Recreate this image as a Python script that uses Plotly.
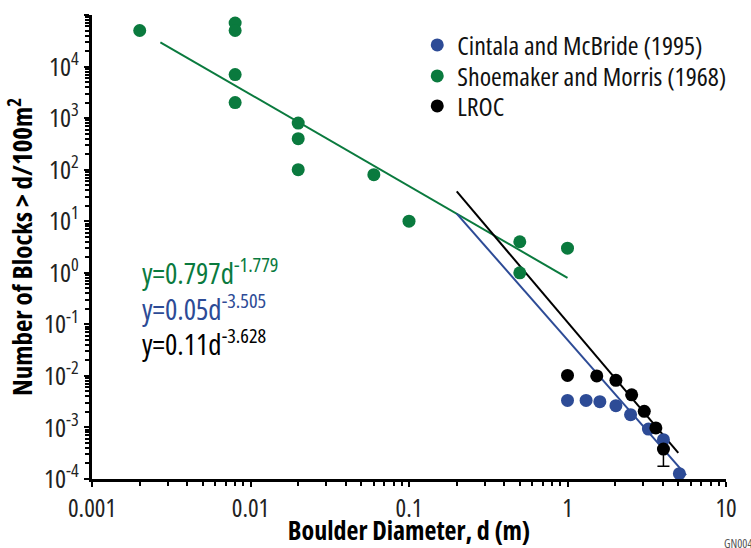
import numpy as np
import plotly.graph_objects as go

# Shoemaker and Morris (1968)
sm_d = [0.002, 0.008, 0.008, 0.008, 0.008, 0.02, 0.02, 0.02, 0.06, 0.1, 0.5, 0.5, 1.0]
sm_n = [5e4, 7e4, 5e4, 7e3, 2e3, 800, 400, 100, 80, 10, 4, 1, 3]

# Cintala and McBride (1995)
cm_d = [1.0, 1.31, 1.6, 2.02, 2.5, 3.24, 4.03, 5.08]
cm_n = [0.00335, 0.00335, 0.00316, 0.00264, 0.00177, 0.00093, 0.00058, 0.000127]

# LROC
lr_d = [1.0, 1.53, 2.02, 2.54, 3.05, 3.61, 4.03]
lr_n = [0.0102, 0.0100, 0.0082, 0.0043, 0.00205, 0.00098, 0.00038]
lr_err_minus = [0, 0, 0, 0, 0, 0, 0.000204]

# power-law fits: y = a * d^b, drawn over a d-range
fit_green = dict(a=0.797, b=-1.779, d=[0.0027, 1.0])
fit_blue = dict(a=0.05, b=-3.505, d=[0.2, 5.6])
fit_black = dict(a=0.11, b=-3.628, d=[0.2, 5.0])

x_major = [0.001, 0.01, 0.1, 1, 10]
x_labels = ["0.001", "0.01", "0.1", "1", "10"]
y_exponents = list(range(-4, 6))

GREEN = "#0a7a3e"
BLUE = "#2d4b96"
BLACK = "#000000"
FONT = "Open Sans"


def c(t):
    return "<span style='font-stretch:condensed'>%s</span>" % t


fig = go.Figure()


def fit_line(f, color):
    d = np.array(f["d"])
    fig.add_trace(go.Scatter(x=d, y=f["a"] * d ** f["b"], mode="lines",
                             line=dict(color=color, width=2), showlegend=False,
                             hoverinfo="skip"))


fit_line(fit_green, GREEN)
fit_line(fit_blue, BLUE)
fit_line(fit_black, BLACK)

fig.add_trace(go.Scatter(x=cm_d, y=cm_n, mode="markers", name=c("Cintala and McBride (1995)"),
                         marker=dict(color=BLUE, size=13), legend="legend"))
fig.add_trace(go.Scatter(x=sm_d, y=sm_n, mode="markers", name=c("Shoemaker and Morris (1968)"),
                         marker=dict(color=GREEN, size=13), legend="legend2"))
fig.add_trace(go.Scatter(x=lr_d, y=lr_n, mode="markers", name=c("LROC"),
                         marker=dict(color=BLACK, size=13), legend="legend3",
                         error_y=dict(type="data", symmetric=False,
                                      array=[0] * len(lr_d), arrayminus=lr_err_minus,
                                      color=BLACK, thickness=1.5, width=6)))


def decades(lo, hi):
    vals = []
    for e in range(lo, hi):
        for m in range(2, 10):
            vals.append(m * 10.0 ** e)
    return vals


y_major = [10.0 ** e for e in y_exponents]
y_labels = [c("10<sup>%d</sup>" % e) for e in y_exponents]

axis_common = dict(type="log", showgrid=False, zeroline=False, showline=True,
                   linecolor="black", linewidth=3, ticks="outside", ticklen=5,
                   tickwidth=2, tickcolor="black", tickmode="array", automargin=False)

fig.update_xaxes(**axis_common, range=[-3, 1], tickvals=x_major,
                 ticktext=[c(t) for t in x_labels],
                 tickfont=dict(family=FONT, size=25, color="#222"),
                 minor=dict(tickmode="array", tickvals=decades(-3, 1), ticks="outside",
                            ticklen=4, tickwidth=2, tickcolor="black", showgrid=False),
                 title=dict(text=c("Boulder Diameter, d (m)"), standoff=0,
                            font=dict(family=FONT, size=26, color="black", weight="bold")))
fig.update_yaxes(**axis_common, range=[-4, 5], tickvals=y_major, ticktext=y_labels,
                 tickfont=dict(family=FONT, size=26, color="#222"),
                 minor=dict(tickmode="array", tickvals=decades(-4, 5), ticks="outside",
                            ticklen=4, tickwidth=2, tickcolor="black", showgrid=False),
                 title=dict(text=c("Number of Blocks > d/100m<sup>2</sup>"), standoff=4,
                            font=dict(family=FONT, size=27, color="black", weight="bold")))

eqs = [("y=0.797d<sup>-1.779</sup>", GREEN, 0.025),
       ("y=0.05d<sup>-3.505</sup>", BLUE, -0.655),
       ("y=0.11d<sup>-3.628</sup>", BLACK, -1.335)]
for txt, col, ly in eqs:
    fig.add_annotation(x=np.log10(0.002), y=ly, text=c(txt), showarrow=False,
                       xanchor="left", yanchor="middle",
                       font=dict(family=FONT, size=29, color=col))

fig.add_annotation(xref="paper", yref="paper", x=0.9937, y=-0.116, text=c("GN0043"),
                   showarrow=False, xanchor="left", yanchor="top",
                   font=dict(family=FONT, size=12, color="#555"))

leg_common = dict(x=0.513, xanchor="left", yanchor="middle",
                  font=dict(family=FONT, size=26, color="#111"),
                  bgcolor="rgba(0,0,0,0)", itemwidth=30)
fig.update_layout(
    width=751, height=548, margin=dict(l=92, r=25, t=15, b=69, autoexpand=False),
    paper_bgcolor="white", plot_bgcolor="white",
    legend=dict(y=0.9353, **leg_common),
    legend2=dict(y=0.8685, **leg_common),
    legend3=dict(y=0.8039, **leg_common),
)

fig.write_html("out.html")
